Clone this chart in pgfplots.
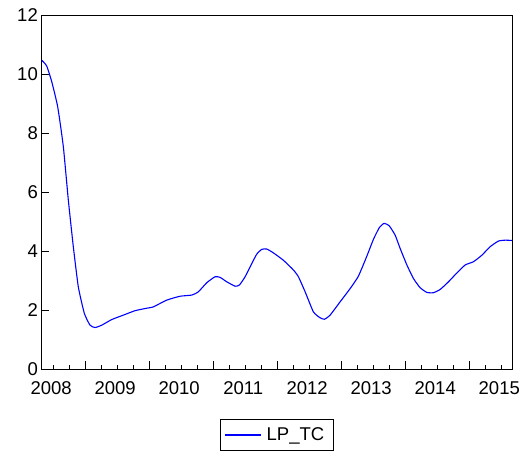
\documentclass[border=0pt]{standalone}
\usepackage{pgfplots}
\pgfplotsset{compat=1.18}
\usepackage{fontspec}
\setmainfont{Liberation Sans}
\begin{document}
\begin{tikzpicture}
\begin{axis}[
  name=ax,
  scale only axis, width=471.5bp, height=354bp,
  xmin=2008.3125, xmax=2015.68, ymin=0, ymax=12,
  ytick={0,2,4,6,8,10,12},
  xtick={2009,2010,2011,2012,2013,2014,2015},
  xticklabels={},
  extra x ticks={2008.47,2009.47,2010.47,2011.47,2012.47,2013.47,2014.47,2015.47},
  extra x tick labels={2008,2009,2010,2011,2012,2013,2014,2015},
  extra x tick style={major tick length=0pt, grid=none},
  minor xtick={2008.5,2008.75,2009.25,2009.5,2009.75,2010.25,2010.5,2010.75,2011.25,2011.5,2011.75,2012.25,2012.5,2012.75,2013.25,2013.5,2013.75,2014.25,2014.5,2014.75,2015.25,2015.5},
  xtick pos=bottom, ytick pos=left, tick align=inside,
  major tick length=8bp, minor tick length=4bp,
  every tick/.style={black, line width=0.8bp},
  axis line style={black, line width=1bp},
  /pgf/number format/assume math mode=true,
  tick label style={font=\fontsize{18.5bp}{22bp}\selectfont, text=black},
  yticklabel style={inner sep=0pt, xshift=-3bp},
  xticklabel style={inner sep=0pt, yshift=-12bp},
  legend style={at={(0.5,-0.186)}, anchor=center, line width=0.8bp,
    font=\fontsize{18.5bp}{22bp}\selectfont, inner xsep=4.5bp, inner ysep=0pt,
    nodes={inner xsep=5bp, inner ysep=8.5bp}},
  legend image code/.code={%
    \pgfpathmoveto{\pgfpointorigin}%
    \pgfpathlineto{\pgfpoint{36bp}{0bp}}%
    \pgfsetlinewidth{1.2bp}%
    \pgfsetstrokecolor{blue}%
    \pgfusepath{stroke}},
]
\addplot[blue, line width=1.1bp, smooth, tension=0.3] coordinates {
(2008.323,10.47) (2008.402,10.27) (2008.480,9.74) (2008.573,8.89) (2008.661,7.54)
(2008.739,5.73) (2008.817,4.15) (2008.895,2.79) (2008.989,1.89) (2009.078,1.49)
(2009.156,1.41) (2009.261,1.49) (2009.417,1.68) (2009.598,1.83) (2009.781,1.98)
(2009.953,2.06) (2010.067,2.11) (2010.277,2.34) (2010.484,2.47) (2010.667,2.51)
(2010.770,2.62) (2010.902,2.93) (2011.031,3.13) (2011.109,3.11) (2011.214,2.96)
(2011.344,2.81) (2011.411,2.85) (2011.500,3.13) (2011.605,3.58) (2011.683,3.90)
(2011.761,4.06) (2011.839,4.07) (2011.942,3.94) (2012.098,3.69) (2012.255,3.36)
(2012.333,3.13) (2012.438,2.62) (2012.567,1.94) (2012.672,1.74) (2012.739,1.69)
(2012.828,1.83) (2012.984,2.28) (2013.141,2.73) (2013.270,3.15) (2013.402,3.83)
(2013.505,4.40) (2013.598,4.80) (2013.672,4.94) (2013.750,4.86) (2013.844,4.54)
(2013.922,4.09) (2014.027,3.53) (2014.130,3.07) (2014.234,2.76) (2014.339,2.60)
(2014.442,2.59) (2014.547,2.70) (2014.677,2.96) (2014.808,3.26) (2014.938,3.53)
(2015.067,3.64) (2015.198,3.86) (2015.328,4.15) (2015.458,4.34) (2015.563,4.37)
(2015.667,4.36)
};
\addlegendentry{LP\_TC}
\end{axis}
\path (ax.south west) +(-41bp,-83bp) rectangle ([shift={(16.3bp,15bp)}]ax.north east);
\end{tikzpicture}
\end{document}
